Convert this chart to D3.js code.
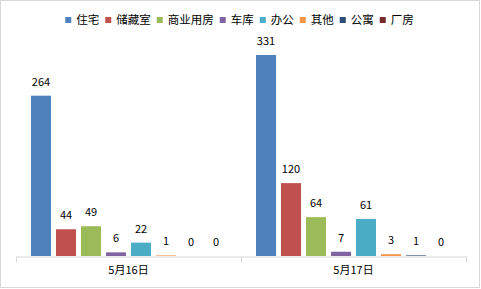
<!DOCTYPE html>
<html>
<head>
<meta charset="utf-8">
<script src="https://cdn.jsdelivr.net/npm/d3@7"></script>
<style>
  html, body { margin: 0; padding: 0; background: #fff; }
  #container { width: 481px; height: 289px; }
  text { font-family: "Noto Sans CJK SC", "Open Sans", sans-serif; fill: #000; }
</style>
</head>
<body>
<div id="container"></div>
<script>
const dates = ["5月16日", "5月17日"]
const types = ["住宅", "储藏室", "商业用房", "车库", "办公", "其他", "公寓", "厂房"]
const counts = [
    [264, 44, 49, 6, 22, 1, 0, 0],
    [331, 120, 64, 7, 61, 3, 1, 0]
]
const colors = ["#4F81BD", "#C0504D", "#9BBB59", "#8064A2", "#4BACC6", "#F79646", "#2C4D75", "#772C2A"]

const width = 481
const height = 289

const svg = d3.select("#container").append("svg")
                .attr("width", width)
                .attr("height", height)

svg.append("rect")
    .attr("x", 0.5).attr("y", 0.5)
    .attr("width", width - 2).attr("height", height - 2)
    .attr("fill", "#fff")
    .attr("stroke", "#d9d9d9")

const x0 = d3.scaleBand()
            .domain(dates)
            .range([16, 466])

const x1 = d3.scaleBand()
            .domain(types)
            .range([15, 210])
            .paddingInner(0.2)

const y = d3.scaleLinear()
            .domain([0, 331])
            .range([256, 55])

const groups = svg.selectAll(".grp")
            .data(counts)
            .enter()
            .append("g")
            .attr("transform", (d, i) => `translate(${x0(dates[i])},0)`)

groups.selectAll("rect")
    .data(d => d)
    .enter()
    .append("rect")
    .attr("x", (d, i) => x1(types[i]))
    .attr("y", d => y(d))
    .attr("width", x1.bandwidth())
    .attr("height", d => y(0) - y(d))
    .attr("fill", (d, i) => colors[i])

groups.selectAll("text")
    .data(d => d)
    .enter()
    .append("text")
    .attr("x", (d, i) => x1(types[i]) + x1.bandwidth() / 2)
    .attr("y", d => y(d) - 10)
    .attr("text-anchor", "middle")
    .attr("font-size", 11)
    .text(d => d)

// category axis
const axis = svg.append("g")
const ax = d3.axisBottom(x0).tickSize(0).tickPadding(10)
axis.attr("transform", "translate(0,256.5)").call(ax)
axis.select(".domain").attr("stroke", "#d9d9d9")
axis.selectAll("text").attr("font-size", 11).attr("fill", "#000")
    .style("font-family", '"Noto Sans CJK SC", sans-serif')
axis.selectAll(".sep")
    .data([16, 241, 466])
    .enter()
    .append("line")
    .attr("x1", d => d + 0.5).attr("x2", d => d + 0.5)
    .attr("y1", 0).attr("y2", 6)
    .attr("stroke", "#d9d9d9")

// legend
const legend = svg.append("g")
let lx = 0
const items = legend.selectAll("g")
            .data(types)
            .enter()
            .append("g")
items.append("rect")
    .attr("y", -3)
    .attr("width", 6)
    .attr("height", 6)
    .attr("fill", (d, i) => colors[i])
items.append("text")
    .attr("x", 11)
    .attr("dy", "0.35em")
    .attr("font-size", 11.5)
    .text(d => d)
items.each(function () {
    const w = this.querySelector("text").getComputedTextLength()
    d3.select(this).attr("transform", `translate(${lx},0)`)
    lx += 11 + w + 6
})
legend.attr("transform", `translate(${66 + (347 - (lx - 6)) / 2},20)`)
</script>
</body>
</html>
